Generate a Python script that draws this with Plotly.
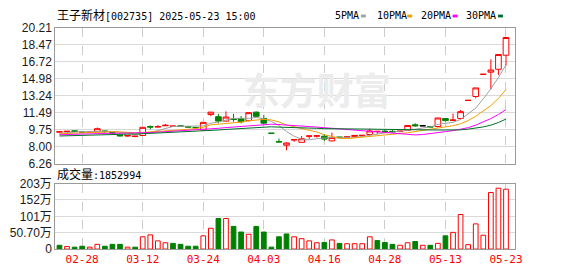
import plotly.graph_objects as go
import pandas as pd

# ---------------- data ----------------
stock_name = "王子新材"
stock_code = "002735"
timestamp = "2025-05-23 15:00"

dates = ["02-25", "02-26", "02-27", "02-28",
         "03-03", "03-04", "03-05", "03-06", "03-07", "03-10", "03-11", "03-12", "03-13", "03-14",
         "03-17", "03-18", "03-19", "03-20", "03-21", "03-24", "03-25", "03-26", "03-27", "03-28", "03-31",
         "04-01", "04-02", "04-03", "04-07", "04-08", "04-09", "04-10", "04-11", "04-14", "04-15", "04-16",
         "04-17", "04-18", "04-21", "04-22", "04-23", "04-24", "04-25", "04-28", "04-29", "04-30",
         "05-06", "05-07", "05-08", "05-09", "05-12", "05-13", "05-14", "05-15", "05-16", "05-19",
         "05-20", "05-21", "05-22", "05-23"]

opens = [9.50, 9.55, 9.63, 9.52, 9.48, 9.53, 9.62, 9.45, 9.18, 9.10,
         9.05, 9.15, 10.08, 10.02, 10.15, 10.08, 10.15, 10.06, 9.98, 9.72,
         11.30, 11.08, 10.63, 10.85, 10.90, 10.68, 11.55, 10.90, 9.38, 8.52,
         8.15, 8.70, 8.45, 9.08, 9.08, 9.08, 8.60, 9.00, 9.00, 9.04,
         9.14, 9.25, 9.55, 9.60, 9.58, 9.55, 9.68, 10.25, 10.15, 10.08,
         10.07, 10.89, 10.70, 10.90, 12.76, 13.16, 15.44, 15.66, 15.96, 17.40]
highs = [9.56, 9.60, 9.66, 9.53, 9.52, 9.97, 9.68, 9.48, 9.20, 9.16,
         9.10, 9.99, 10.17, 10.22, 10.33, 10.15, 10.16, 10.08, 10.00, 10.52,
         11.56, 11.38, 11.63, 11.38, 11.16, 11.52, 11.62, 11.28, 9.38, 8.84,
         8.45, 8.74, 9.10, 9.12, 9.14, 9.30, 9.45, 9.02, 9.04, 9.20,
         9.20, 9.85, 9.60, 9.72, 9.80, 9.62, 10.20, 10.42, 10.18, 10.10,
         10.97, 10.90, 11.40, 11.78, 12.76, 14.04, 15.44, 16.98, 17.47, 19.22]
lows = [9.47, 9.50, 9.52, 9.44, 9.46, 9.52, 9.45, 9.36, 9.05, 9.04,
        8.97, 9.12, 9.78, 10.00, 10.12, 10.05, 10.04, 9.98, 9.90, 9.68,
        11.15, 10.40, 10.60, 10.56, 10.40, 10.60, 11.05, 10.35, 9.38, 8.44,
        7.64, 8.50, 8.43, 8.80, 8.95, 8.60, 8.55, 8.90, 8.97, 9.00,
        9.10, 9.17, 9.30, 9.45, 9.45, 9.50, 9.65, 10.05, 10.12, 9.98,
        9.97, 10.60, 10.68, 10.82, 12.76, 12.98, 15.44, 13.90, 15.37, 16.33]
closes = [9.53, 9.58, 9.57, 9.48, 9.50, 9.85, 9.55, 9.40, 9.12, 9.14,
          9.08, 9.99, 10.02, 10.06, 10.20, 10.12, 10.08, 10.02, 9.95, 10.50,
          11.55, 10.63, 11.05, 10.80, 10.56, 11.50, 11.12, 10.42, 9.38, 8.49,
          8.38, 8.72, 8.82, 9.10, 9.12, 8.78, 8.95, 8.93, 9.02, 9.16,
          9.17, 9.62, 9.58, 9.55, 9.52, 9.60, 10.18, 10.15, 10.15, 10.02,
          10.95, 10.68, 10.74, 11.60, 12.76, 14.04, 15.44, 15.88, 17.47, 19.22]
volumes = [117000, 78000, 59000, 88000, 59000, 146000, 88000, 146000, 146000, 59000,
           59000, 380000, 439000, 254000, 195000, 176000, 146000, 88000, 88000, 410000,
           644000, 946000, 946000, 702000, 527000, 458000, 702000, 527000, 59000, 380000,
           468000, 380000, 322000, 254000, 195000, 205000, 283000, 176000, 166000, 166000,
           166000, 380000, 263000, 205000, 146000, 117000, 195000, 234000, 117000, 117000,
           176000, 410000, 517000, 1070000, 137000, 780000, 429000, 1752000, 1884000, 1852994]
# closes of the 29 sessions before the window (only feed the moving averages)
pre_closes = [8.70, 8.75, 8.82, 8.78, 8.85, 8.90, 8.86, 8.88, 8.92, 8.94,
              9.02, 9.08, 9.15, 9.10, 9.18, 9.12, 9.16, 9.20, 9.14, 9.15,
              9.22, 9.26, 9.30, 9.27, 9.30, 9.25, 9.28, 9.29, 9.60]

price_ticks = [6.26, 8.00, 9.75, 11.49, 13.24, 14.98, 16.72, 18.47, 20.21]
volume_ticks = [0, 507000, 1014000, 1521000, 2028000]
volume_tick_labels = ["0", "50.70万", "101万", "152万", "203万"]
date_ticks = ["02-28", "03-12", "03-24", "04-03", "04-16", "04-28", "05-13", "05-23"]
ma_periods = [5, 10, 20, 30]
ma_names = ["5PMA", "10PMA", "20PMA", "30PMA"]
watermark = "东方财富"

# ---------------- style ----------------
W, H = 578, 276
PLOT_L, PLOT_R = 56, 522
MAIN_T, MAIN_B = 22, 165
VOL_T, VOL_B = 186, 255
RED, GREEN, BLACK = "#ff0000", "#008000", "#000000"
MA_COLORS = ["#a0a0a0", "#f0a000", "#ff00ff", "#006f2a"]
BORDER = "#9a9a9a"
HGRID = "#d9d9d9"
VGRID = "#cccccc"
MONO = "DejaVu Sans Mono, Noto Sans CJK SC"
SANS = "Liberation Sans, Noto Sans CJK SC"
X_RANGE = [-0.56, 60.16]


def px(x):
    return x / W


def py(y):
    return 1 - y / H


n = len(dates)
xs = list(range(n))

# moving averages from closes
all_closes = pd.Series(pre_closes + closes)
ma_values = {p: all_closes.rolling(p).mean().iloc[len(pre_closes):].tolist() for p in ma_periods}

# candle groups
prev = [pre_closes[-1]] + closes[:-1]
up_idx = [i for i in xs if closes[i] > opens[i]]
down_idx = [i for i in xs if closes[i] < opens[i]]
flat_red = [i for i in xs if closes[i] == opens[i] and closes[i] > prev[i]]
flat_green = [i for i in xs if closes[i] == opens[i] and closes[i] < prev[i]]
flat_black = [i for i in xs if closes[i] == opens[i] and closes[i] == prev[i]]
vol_up = [i for i in xs if closes[i] >= prev[i]]
vol_down = [i for i in xs if closes[i] < prev[i]]

fig = go.Figure()

# watermark (beneath everything)
fig.add_trace(go.Scatter(
    x=[X_RANGE[0] + 0.569 * (X_RANGE[1] - X_RANGE[0])],
    y=[price_ticks[0] + 0.50 * (price_ticks[-1] - price_ticks[0])],
    mode="text", text=[watermark],
    textfont=dict(family="Noto Sans CJK SC", size=37, color="#ececec", weight=700),
    hoverinfo="skip", showlegend=False, xaxis="x", yaxis="y"))


def candles(idx, color, fill):
    return go.Candlestick(
        x=idx,
        open=[opens[i] for i in idx], high=[highs[i] for i in idx],
        low=[lows[i] for i in idx], close=[closes[i] for i in idx],
        increasing=dict(line=dict(color=color, width=1), fillcolor=fill),
        decreasing=dict(line=dict(color=color, width=1), fillcolor=fill),
        whiskerwidth=0, showlegend=False, hoverinfo="skip", xaxis="x", yaxis="y")


fig.add_trace(candles(up_idx, RED, "#ffffff"))
fig.add_trace(candles(down_idx, GREEN, GREEN))
for grp, col in ((flat_red, RED), (flat_green, GREEN), (flat_black, BLACK)):
    if grp:
        fig.add_trace(candles(grp, col, col))

for p, col in zip(ma_periods, MA_COLORS):
    fig.add_trace(go.Scatter(x=xs, y=ma_values[p], mode="lines",
                             line=dict(color=col, width=1), hoverinfo="skip",
                             showlegend=False, xaxis="x", yaxis="y"))

fig.add_trace(go.Bar(x=vol_up, y=[volumes[i] for i in vol_up], width=0.62,
                     marker=dict(color="#ffffff", line=dict(color=RED, width=1)),
                     hoverinfo="skip", showlegend=False, xaxis="x2", yaxis="y2"))
fig.add_trace(go.Bar(x=vol_down, y=[volumes[i] for i in vol_down], width=0.62,
                     marker=dict(color=GREEN, line=dict(color=GREEN, width=1)),
                     hoverinfo="skip", showlegend=False, xaxis="x2", yaxis="y2"))

tickvals_x = [dates.index(d) for d in date_ticks]
common_x = dict(range=X_RANGE, domain=[px(PLOT_L), px(PLOT_R)], tickmode="array",
                tickvals=tickvals_x, ticktext=date_ticks, showgrid=True, gridcolor=VGRID,
                griddash="dash", gridwidth=1, showline=True, mirror=True, linecolor=BORDER,
                linewidth=1, zeroline=False, ticks="", fixedrange=True)

fig.update_layout(
    width=W, height=H, margin=dict(l=0, r=0, t=0, b=0),
    paper_bgcolor="white", plot_bgcolor="white", showlegend=False,
    barmode="overlay", boxgap=0.25, boxgroupgap=0.0,
    xaxis=dict(**common_x, anchor="y", showticklabels=False, rangeslider=dict(visible=False)),
    xaxis2=dict(**common_x, anchor="y2", matches="x", showticklabels=True,
                tickfont=dict(family=MONO, size=11, color=RED)),
    yaxis=dict(domain=[py(MAIN_B), py(MAIN_T)], range=[price_ticks[0], price_ticks[-1]],
               tickmode="array", tickvals=price_ticks, ticktext=[f"{v:.2f}" for v in price_ticks],
               showgrid=True, gridcolor=HGRID, gridwidth=1, showline=True, mirror=True,
               linecolor=BORDER, zeroline=False, ticks="", anchor="x",
               tickfont=dict(family=SANS, size=12, color="#1a1a1a")),
    yaxis2=dict(domain=[py(VOL_B), py(VOL_T)], range=[volume_ticks[0], volume_ticks[-1]],
                tickmode="array", tickvals=volume_ticks, ticktext=volume_tick_labels,
                showgrid=True, gridcolor=HGRID, gridwidth=1, showline=True, mirror=True,
                linecolor=BORDER, zeroline=False, ticks="", anchor="x2",
                tickfont=dict(family=SANS, size=12, color="#1a1a1a")),
)

annotations = [
    dict(text=f"<span style='font-size:12px'>{stock_name}</span>[{stock_code}] {timestamp}",
         x=px(PLOT_L), y=py(9), xanchor="left", yanchor="middle"),
    dict(text=f"<span style='font-size:12px'>成交量</span>:{volumes[-1]}",
         x=px(PLOT_L), y=py(176), xanchor="left", yanchor="middle"),
]
legend_text_x = [338, 380, 425, 471]
legend_box_x = [366, 413, 459, 505]
shapes = []
for name, col, tx, bx in zip(ma_names, MA_COLORS, legend_text_x, legend_box_x):
    annotations.append(dict(text=name, x=px(tx), y=py(9), xanchor="left", yanchor="middle"))
    shapes.append(dict(type="rect", xref="paper", yref="paper", x0=px(bx), x1=px(bx + 5),
                       y0=py(11), y1=py(8), fillcolor=col, line=dict(width=0)))
for a in annotations:
    a.update(xref="paper", yref="paper", showarrow=False,
             font=dict(family=MONO, size=10, color="#000000"))
fig.update_layout(annotations=annotations, shapes=shapes)

fig.write_html("out.html")
